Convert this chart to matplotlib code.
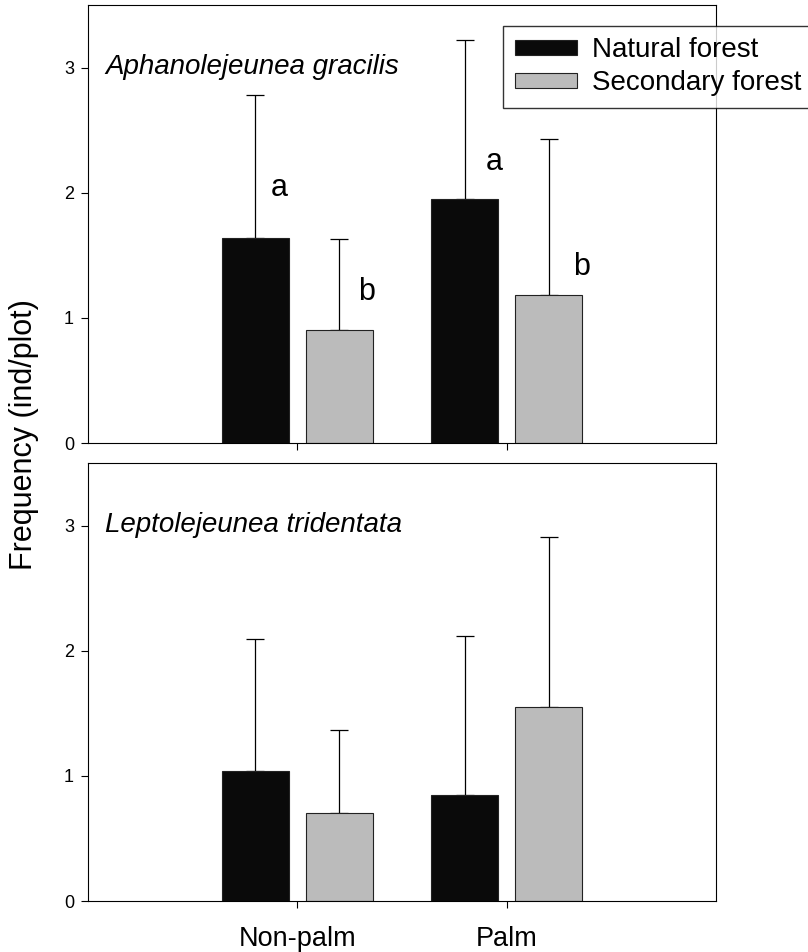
import numpy as np
import matplotlib
matplotlib.use('Agg')
import matplotlib.pyplot as plt
from matplotlib.patches import Patch

plt.rcParams['font.family'] = ['Liberation Sans', 'DejaVu Sans']

groups = ['Non-palm', 'Palm']
series = ['Natural forest', 'Secondary forest']
colors = ['#0a0a0a', '#bbbbbb']

# top panel: Aphanolejeunea gracilis
top_mean = [[1.64, 1.95], [0.90, 1.18]]
top_err = [[1.14, 1.27], [0.73, 1.25]]
top_letters = [['a', 'a'], ['b', 'b']]
# letter positions (x, baseline y)
top_letter_x = [[0.916, 1.942], [1.332, 2.356]]
top_letter_y = [[1.976, 2.184], [1.144, 1.344]]

# bottom panel: Leptolejeunea tridentata
bot_mean = [[1.04, 0.85], [0.70, 1.55]]
bot_err = [[1.05, 1.27], [0.67, 1.36]]

species = ['Aphanolejeunea gracilis', 'Leptolejeunea tridentata']

fig = plt.figure(figsize=(8.08, 9.52), dpi=100)
ax_top = fig.add_axes([88/808, 1-443/952, 628/808, 438/952])
ax_bot = fig.add_axes([88/808, 1-901/952, 628/808, 438/952])

x = np.arange(1, len(groups) + 1)
width = 0.32
offsets = [-0.2, 0.2]

def draw_panel(ax, means, errs, name):
    for i in range(len(series)):
        xs = x + offsets[i]
        ax.bar(xs, means[i], width, color=colors[i], edgecolor='#222222', linewidth=0.8, zorder=2)
        ax.errorbar(xs, means[i], yerr=[np.zeros(len(errs[i])), errs[i]], fmt='none',
                    ecolor='black', elinewidth=0.9, capsize=6.5, capthick=0.9, zorder=1)
    ax.set_xlim(0, 3)
    ax.set_ylim(0, 3.5)
    ax.set_yticks([0, 1, 2, 3])
    ax.set_xticks(x)
    ax.tick_params(direction='out', length=5, width=0.8, labelsize=13, pad=5)
    ax.tick_params(axis='x', labelsize=19.5, pad=13)
    for s in ax.spines.values():
        s.set_linewidth(0.8)
    ax.text(0.027, 0.843, name, transform=ax.transAxes, fontsize=20,
            style='italic', ha='left', va='baseline')

draw_panel(ax_top, top_mean, top_err, species[0])
draw_panel(ax_bot, bot_mean, bot_err, species[1])
for i in range(len(series)):
    for j in range(len(groups)):
        ax_top.text(top_letter_x[i][j], top_letter_y[i][j], top_letters[i][j],
                    fontsize=22, ha='center', va='baseline')
ax_top.set_xticklabels([])
ax_bot.set_xticklabels(groups)

fig.text(24/808, 1-435/952, 'Frequency (ind/plot)', rotation=90, fontsize=22,
         ha='center', va='center')

handles = [Patch(facecolor=c, edgecolor='#222222', linewidth=0.8) for c in colors]
fig.legend(handles, series, loc='lower left', bbox_to_anchor=(503/808, 1-108/952),
           fontsize=20, frameon=True, fancybox=False, edgecolor='black',
           handlelength=2.25, handleheight=0.45, handletextpad=0.55, labelspacing=0.25,
           borderpad=0.42, borderaxespad=0)

fig.savefig('out.png', dpi=100)
